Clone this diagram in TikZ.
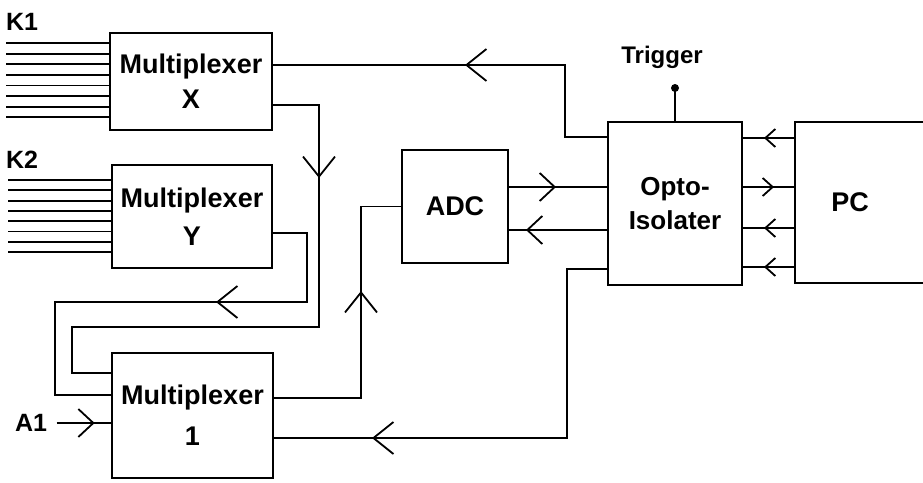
\documentclass[tikz,border=0pt]{standalone}
\usepackage{fontspec}
\setmainfont{Liberation Sans}
\usetikzlibrary{arrows.meta,decorations.markings}

\begin{document}
\begin{tikzpicture}[x=1pt,y=-1pt,>={Straight Barb[length=20pt,width=32pt]}]
  \tikzset{
    box/.style={draw,line width=2pt,inner sep=0pt,align=center,
      font=\fontsize{27}{35}\selectfont\bfseries},
    wire/.style={line width=1.8pt},
    tag/.style={font=\fontsize{25}{30}\selectfont\bfseries},
    flow/.style={postaction={decorate},decoration={markings,
      mark=at position #1 with {\arrow{>}}}},
    midtip/.style={>={Straight Barb[length=15pt,width=28pt]}},
    smalltip/.style={>={Straight Barb[length=10pt,width=18pt]}}
  }
  \useasboundingbox (0,0) rectangle (923,482);

  % blocks
  \node[box,minimum width=162pt,minimum height=97pt] (muxX) at (191,81.5) {Multiplexer\\X};
  \node[box,minimum width=160pt,minimum height=103pt] (muxY) at (192,216.5) {Multiplexer\\[3pt]Y};
  \node[box,minimum width=161pt,minimum height=125pt] (mux1) at (192.5,415.5) {Multiplexer\\[6pt]1};
  \node[box,minimum width=106pt,minimum height=113pt] (adc) at (455,206.5) {ADC};
  \node[box,minimum width=134pt,minimum height=163pt,
    font=\fontsize{26}{34}\selectfont\bfseries] (opto) at (675,203.5) {Opto-\\Isolater};
  \node[box,minimum width=150pt,minimum height=161pt] (pc) at (870,202.5) {PC\hspace*{40pt}};

  % labels
  \node[tag] (k1) at (22,22) {K1};
  \node[tag] (k2) at (22,160) {K2};
  \node[tag] (a1) at (31,423) {A1};
  \node[tag,font=\fontsize{24}{28}\selectfont\bfseries] (trig) at (662,57) {Trigger};

  % input bundles
  \foreach \i in {0,...,7} {
    \draw[wire] ([yshift={38.5-10.6*\i}]muxX.west) -- ++(-103,0);
    \draw[wire] ([yshift={36.5-10.3*\i}]muxY.west) -- ++(-103,0);
  }
  \draw[wire,midtip,flow=0.7] ([xshift=6pt]a1.east) -- (mux1.west |- a1.east);

  % turn points
  \coordinate (c1) at (565,65);
  \coordinate (c2) at (319,105);
  \coordinate (c3) at (72,327);
  \coordinate (c4) at (307,233);
  \coordinate (c5) at (55,302);
  \coordinate (c6) at (361,398);
  \coordinate (c7) at (567,269);
  \coordinate (c8) at (567,438);
  \coordinate (tdot) at (675,88);

  % wiring
  \draw[wire,flow=214pt] ([yshift=-16pt]opto.north west) -| (c1) -- (muxX.east |- c1);
  \draw[wire,flow=119pt] (muxX.east |- c2) -- (c2) |- (c3) -- ++(0,46) -- (mux1.west |- 0,373);
  \draw[wire,flow=194pt] (muxY.east |- c4) -- (c4) |- (c5) -- ++(0,93) -- (mux1.west |- 0,395);
  \draw[wire,flow=194pt] (mux1.east |- c6) -- (c6) |- (adc.west);
  \draw[wire,midtip,flow=47pt] ([yshift=19.5pt]adc.east) -- (opto.west |- 0,187);
  \draw[wire,midtip,flow=81pt] ([yshift=-26.5pt]opto.west) -- (adc.east |- 0,230);
  \draw[wire,flow=404pt] (opto.west |- c7) -- (c7) -- (c8) -- (mux1.east |- c8);
  \draw[wire,smalltip,flow=30pt] (pc.west |- 0,138) -- (opto.east |- 0,138);
  \draw[wire,smalltip,flow=31pt] (opto.east |- 0,187) -- (pc.west |- 0,187);
  \draw[wire,smalltip,flow=30pt] (pc.west |- 0,228) -- (opto.east |- 0,228);
  \draw[wire,smalltip,flow=30pt] (pc.west |- 0,267) -- (opto.east |- 0,267);
  \draw[wire] (tdot) -- (opto.north);
  \fill (tdot) circle (4pt);
\end{tikzpicture}
\end{document}
